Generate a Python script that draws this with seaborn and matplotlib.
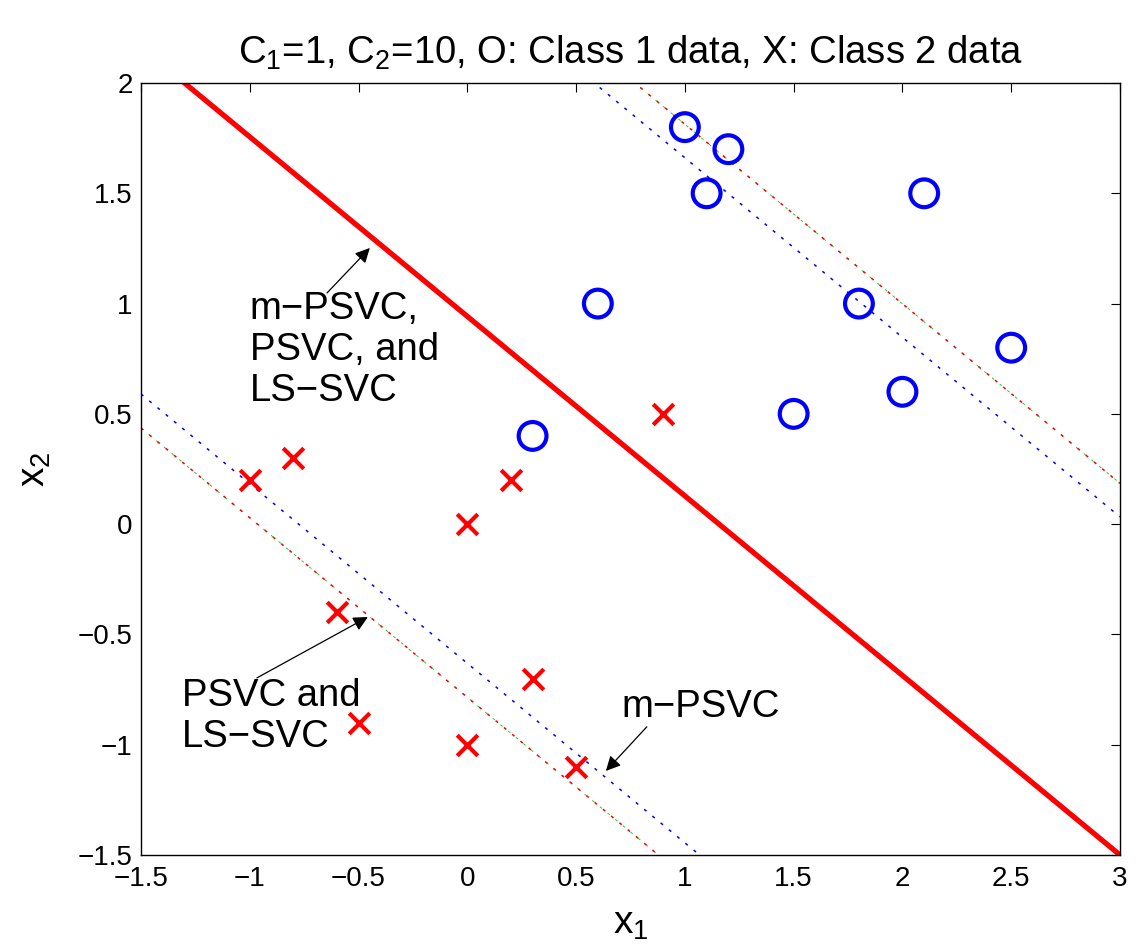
"""
Decision boundaries of m-PSVC, PSVC and LS-SVC on a small two-class set.
Redraw of the C1=1, C2=10 comparison figure.
"""
import matplotlib
matplotlib.use('Agg')
import matplotlib.pyplot as plt
import seaborn as sns

# ── DATA ─────────────────────────────────────────────────────
# class 1 (circles)
c1_x = [1.0, 1.2, 1.1, 2.1, 0.6, 1.8, 2.5, 2.0, 1.5, 0.3]
c1_y = [1.8, 1.7, 1.5, 1.5, 1.0, 1.0, 0.8, 0.6, 0.5, 0.4]
# class 2 (crosses)
c2_x = [0.9, -1.0, -0.8, 0.2, 0.0, -0.6, 0.3, -0.5, 0.0, 0.5]
c2_y = [0.5, 0.2, 0.3, 0.2, 0.0, -0.4, -0.7, -0.9, -1.0, -1.1]

# line end points (x = -1.5 and x = 3)
line_x = [-1.5, 3.0]
boundary_y = [2.163, -1.5]          # all three methods coincide
mpsvc_upper_y = [3.696, 0.033]
mpsvc_lower_y = [0.590, -3.073]
psvc_upper_y = [3.848, 0.185]       # PSVC and LS-SVC coincide
psvc_lower_y = [0.436, -3.227]

x_ticks = [-1.5, -1, -0.5, 0, 0.5, 1, 1.5, 2, 2.5, 3]
y_ticks = [-1.5, -1, -0.5, 0, 0.5, 1, 1.5, 2]
x_ticklabels = ['\u22121.5', '\u22121', '\u22120.5', '0', '0.5', '1', '1.5', '2', '2.5', '3']
y_ticklabels = ['\u22121.5', '\u22121', '\u22120.5', '0', '0.5', '1', '1.5', '2']

# ── STYLE ────────────────────────────────────────────────────
sns.set_style('white')
plt.rcParams['font.family'] = ['Liberation Sans', 'DejaVu Sans']
plt.rcParams['mathtext.fontset'] = 'custom'
plt.rcParams['mathtext.rm'] = 'Liberation Sans'
plt.rcParams['mathtext.it'] = 'Liberation Sans'
plt.rcParams['text.color'] = 'k'
plt.rcParams['axes.labelcolor'] = 'k'
plt.rcParams['xtick.color'] = 'k'
plt.rcParams['ytick.color'] = 'k'

fig = plt.figure(figsize=(11.36, 9.52), dpi=100)
ax = fig.add_axes([0.1241, 0.1019, 0.8618, 0.8109])

DOT = (0, (2, 5))
DOT_THIN = (0, (3.4, 8.5))

# margin lines (green under red, MATLAB draw order)
for ys in (psvc_upper_y, psvc_lower_y):
    ax.plot(line_x, ys, color='#00cc00', lw=0.6, linestyle=DOT_THIN)
    ax.plot(line_x, ys, color='#ff0000', lw=1.1, linestyle=DOT)
for ys in (mpsvc_upper_y, mpsvc_lower_y):
    ax.plot(line_x, ys, color='#0000ff', lw=1.1, linestyle=DOT)

# decision boundary
ax.plot(line_x, boundary_y, color='#ff0000', lw=3.8, solid_capstyle='butt')

sns.scatterplot(x=c1_x, y=c1_y, marker='o', s=400, facecolor='none',
                edgecolor='#0000ff', linewidth=3.0, ax=ax, zorder=3)
sns.scatterplot(x=c2_x, y=c2_y, marker='x', s=220, color='#ff0000',
                linewidth=3.0, ax=ax, zorder=3)

# annotations
arrow = dict(arrowstyle='-|>', color='k', lw=0.9, mutation_scale=22,
             shrinkA=0, shrinkB=0)
ax.annotate('', xy=(-0.448, 1.252), xytext=(-0.645, 1.048), arrowprops=arrow)
ax.annotate('', xy=(-0.457, -0.421), xytext=(-0.967, -0.697), arrowprops=arrow)
ax.annotate('', xy=(0.637, -1.119), xytext=(0.825, -0.919), arrowprops=arrow)

ax.text(-1.0, 0.79, 'm\u2212PSVC,\nPSVC, and\nLS\u2212SVC', fontsize=27.5,
        ha='left', va='center', linespacing=1.18)
ax.text(-1.31, -0.87, 'PSVC and\nLS\u2212SVC', fontsize=27.5,
        ha='left', va='center', linespacing=1.18)
ax.text(0.71, -0.83, 'm\u2212PSVC', fontsize=27.5, ha='left', va='center')

# ── AXES ─────────────────────────────────────────────────────
ax.set_xlim(-1.5, 3)
ax.set_ylim(-1.5, 2)
ax.set_xticks(x_ticks)
ax.set_xticklabels(x_ticklabels)
ax.set_yticks(y_ticks)
ax.set_yticklabels(y_ticklabels)
ax.tick_params(direction='in', length=6.5, width=0.8, labelsize=20,
               top=True, right=True, color='k')
ax.tick_params(axis='x', pad=8)
ax.tick_params(axis='y', pad=6)
for sp in ax.spines.values():
    sp.set_color('k')
    sp.set_linewidth(1.0)

ax.set_xlabel(r'x$_\mathrm{1}$', fontsize=28, labelpad=10)
ax.set_ylabel(r'x$_\mathrm{2}$', fontsize=28, labelpad=18)
ax.set_title(r'C$_\mathrm{1}$=1, C$_\mathrm{2}$=10, O: Class 1 data, X: Class 2 data',
             fontsize=27.5, pad=14)

plt.savefig('out.png', dpi=100)
plt.close()
